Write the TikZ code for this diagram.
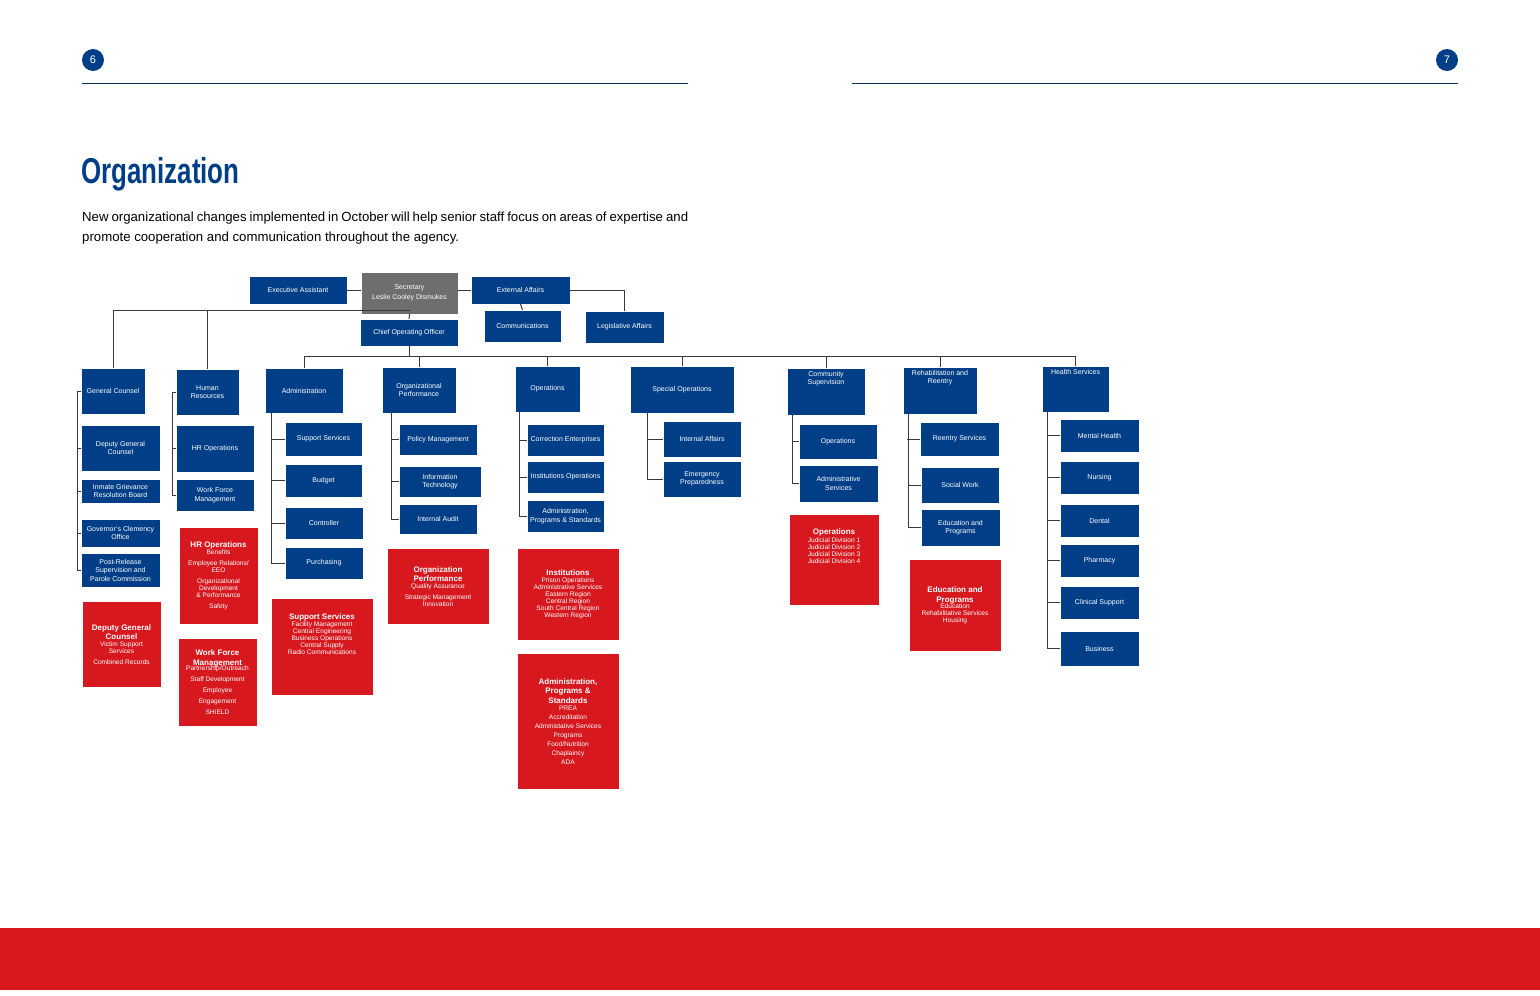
\documentclass[tikz,border=0pt]{standalone}
\usepackage{fontspec}
\setmainfont{Liberation Sans}
\usetikzlibrary{positioning}
\definecolor{orgblue}{HTML}{003F87}
\definecolor{orgred}{HTML}{D7191F}
\definecolor{orggray}{HTML}{6D6E70}
\definecolor{orgline}{HTML}{3A3A3A}
% box from its corners: style, name, x1, y1, x2, y2, text
\newcommand\orgbox[7]{\node[#1, minimum width={(#5-#3)*1pt}, minimum height={(#6-#4)*1pt}] (#2) at ({(#3+#5)/2},{(#4+#6)/2}) {#7};}
\newcommand\redhead[1]{{\fontsize{8}{9.5}\selectfont\bfseries\begin{tabular}{@{}c@{}}#1\end{tabular}}}
\begin{document}
\begin{tikzpicture}[x=1pt, y=-1pt,
    unit/.style={fill=orgblue, draw=white, line width=0.6pt, text=white, inner sep=1pt, outer sep=0pt, align=center, font=\fontsize{7}{8.5}\selectfont},
    boss/.style={unit, fill=orggray},
    notes/.style={unit, fill=orgred, font=\fontsize{6.6}{11}\selectfont},
    link/.style={draw=orgline, line width=1pt},
    toplabel/.style={text=white, anchor=north, inner sep=3pt, align=center, font=\fontsize{7}{8.5}\selectfont}]
  \useasboundingbox (0,0) rectangle (1540,996);

  % page header
  \node[circle, fill=orgblue, text=white, minimum size=22pt, inner sep=0, font=\fontsize{11}{11}\selectfont] (pgl) at (93,60) {6};
  \node[circle, fill=orgblue, text=white, minimum size=22pt, inner sep=0, font=\fontsize{11}{11}\selectfont] (pgr) at (1447,60) {7};
  \draw[draw=orgblue!70!black, line width=1pt] (82,83) -- (688,83);
  \draw[draw=orgblue!70!black, line width=1pt] (852,83) -- (1458,83);
  \node[anchor=west, inner sep=0, text=orgblue, font=\fontsize{36}{36}\selectfont\bfseries] (title) at (81,174) {\scalebox{0.72}[1]{Organization}};
  \node[anchor=north west, inner sep=0, text width=606pt, align=justify, font=\fontsize{13.2}{20}\selectfont] (intro) at (82,212)
    {New organizational changes implemented in October will help senior staff focus on areas of expertise and promote cooperation and communication throughout the agency.};
  \fill[orgred] (0,928) rectangle (1540,990);

  % leadership
  \orgbox{unit}{exec}{249}{276}{347}{304}{Executive Assistant}
  \orgbox{boss}{sec}{361}{272}{458}{314}{Secretary\\[1pt]Leslie Cooley Dismukes}
  \orgbox{unit}{ext}{471}{276}{570}{304}{External Affairs}
  \orgbox{unit}{comms}{484}{310}{561}{342}{Communications}
  \orgbox{unit}{legis}{585}{311}{664}{343}{Legislative Affairs}
  \orgbox{unit}{coo}{360}{319}{458}{346}{Chief Operating Officer}

  % divisions
  \orgbox{unit}{gcounsel}{81}{368}{145}{414}{General Counsel}
  \orgbox{unit}{hres}{176}{369}{239}{415}{Human\\Resources}
  \orgbox{unit}{admin}{265}{368}{343}{413}{Administration}
  \orgbox{unit}{orgperf}{382}{367}{456}{413}{Organizational\\Performance}
  \orgbox{unit}{ops}{515}{366}{580}{412}{Operations}
  \orgbox{unit}{specops}{630}{366}{734}{413}{Special Operations}
  \orgbox{unit}{commsup}{787}{368}{865}{415}{}
  \node[toplabel] (commsuplbl) at (commsup.north) {Community\\Supervision};
  \orgbox{unit}{rehab}{903}{367}{977}{414}{}
  \node[toplabel] (rehablbl) at (rehab.north) {Rehabilitation and\\Reentry};
  \orgbox{unit}{health}{1042}{366}{1109}{412}{}
  \node[toplabel] (healthlbl) at (health.north) {Health Services};

  % sections
  \orgbox{unit}{dgc}{81}{425}{160}{471}{Deputy General\\Counsel}
  \orgbox{unit}{igrb}{81}{479}{160}{503}{Inmate Grievance\\Resolution Board}
  \orgbox{unit}{gco}{81}{519}{160}{547}{Governor's Clemency\\Office}
  \orgbox{unit}{prspc}{81}{553}{160}{587}{Post-Release\\Supervision and\\Parole Commission}
  \orgbox{unit}{hrops}{176}{425}{254}{472}{HR Operations}
  \orgbox{unit}{wfm}{176}{479}{254}{511}{Work Force\\Management}
  \orgbox{unit}{supp}{285}{422}{362}{456}{Support Services}
  \orgbox{unit}{budget}{285}{464}{362}{497}{Budget}
  \orgbox{unit}{ctrl}{285}{507}{363}{539}{Controller}
  \orgbox{unit}{purch}{285}{547}{363}{579}{Purchasing}
  \orgbox{unit}{policy}{399}{424}{477}{455}{Policy Management}
  \orgbox{unit}{infotech}{399}{466}{481}{497}{Information\\Technology}
  \orgbox{unit}{audit}{399}{504}{477}{534}{Internal Audit}
  \orgbox{unit}{corrent}{527}{424}{604}{456}{Correction Enterprises}
  \orgbox{unit}{instops}{527}{461}{604}{493}{Institutions Operations}
  \orgbox{unit}{aps}{527}{500}{604}{532}{Administration,\\Programs \& Standards}
  \orgbox{unit}{intaff}{663}{421}{741}{457}{Internal Affairs}
  \orgbox{unit}{emerg}{663}{461}{741}{497}{Emergency\\Preparedness}
  \orgbox{unit}{csops}{799}{424}{877}{459}{Operations}
  \orgbox{unit}{csadmin}{799}{465}{878}{502}{Administrative\\Services}
  \orgbox{unit}{reentry}{920}{422}{999}{456}{Reentry Services}
  \orgbox{unit}{social}{921}{467}{999}{503}{Social Work}
  \orgbox{unit}{edprog}{921}{509}{1000}{546}{Education and\\Programs}
  \orgbox{unit}{mental}{1060}{419}{1139}{452}{Mental Health}
  \orgbox{unit}{nursing}{1060}{461}{1139}{494}{Nursing}
  \orgbox{unit}{dental}{1060}{504}{1139}{537}{Dental}
  \orgbox{unit}{pharm}{1060}{544}{1139}{577}{Pharmacy}
  \orgbox{unit}{clinic}{1060}{586}{1139}{619}{Clinical Support}
  \orgbox{unit}{business}{1060}{631}{1139}{666}{Business}

  % red detail boxes
  \orgbox{notes}{ndgc}{82}{601}{161}{687}{\redhead{Deputy General\\Counsel}\\[-2pt]Victim Support\\[-4pt]Services\\Combined Records}
  \orgbox{notes}{nhrops}{179}{527}{258}{624}{\redhead{HR Operations}\\[-4pt]Benefits\\Employee Relations/\\[-4pt]EEO\\Organizational\\[-4pt]Development\\[-4pt]\& Performance\\Safety}
  \orgbox{notes}{nwfm}{178}{638}{257}{726}{\redhead{Work Force\\Management}\\[-3pt]Partnership/Outreach\\Staff Development\\Employee\\Engagement\\SHIELD}
  \orgbox{notes}{nsupp}{271}{598}{373}{695}{\redhead{Support Services}\\[-4pt]Facility Management\\[-4pt]Central Engineering\\[-4pt]Business Operations\\[-4pt]Central Supply\\[-4pt]Radio Communications\\[14pt]}
  \orgbox{notes}{norg}{387}{548}{489}{624}{\redhead{Organization\\Performance}\\[-2pt]Quality Assurance\\Strategic Management\\[-4pt]Innovation}
  \orgbox{notes}{ninst}{517}{548}{619}{640}{\redhead{Institutions}\\[-4pt]Prison Operations\\[-4pt]Administrative Services\\[-4pt]Eastern Region\\[-4pt]Central Region\\[-4pt]South Central Region\\[-4pt]Western Region}
  \orgbox{notes}{naps}{517}{653}{619}{789}{\redhead{Administration,\\Programs \&\\Standards}\\[-1pt]PREA\\[-2pt]Accreditation\\[-2pt]Administative Services\\[-2pt]Programs\\[-2pt]Food/Nutrition\\[-2pt]Chaplaincy\\[-2pt]ADA}
  \orgbox{notes}{ncsops}{789}{514}{879}{605}{\redhead{Operations}\\[-3pt]Judicial Division 1\\[-4pt]Judicial Division 2\\[-4pt]Judicial Division 3\\[-4pt]Judicial Division 4\\[16pt]}
  \orgbox{notes}{nedprog}{909}{559}{1001}{651}{\redhead{Education and\\Programs}\\[-2pt]Education\\[-4pt]Rehabilitative Services\\[-4pt]Housing}

  % leadership connectors
  \draw[link] (exec.east) -- (exec.east -| sec.west);
  \draw[link] (sec.east |- ext.west) -- (ext.west);
  \draw[link] (ext.east) -| (legis.north);
  \draw[link] (ext.south) -- (comms.north);
  \draw[link] (sec.south) -- (coo.north);
  \draw[link] ([yshift=4]sec.south) coordinate (sbar) -| (gcounsel.north);
  \draw[link] (sbar) -| (hres.north);
  \draw[link] (coo.south) -- ++(0,10) coordinate (cbar);
  \foreach \dv in {admin, orgperf, ops, specops, commsup, rehab, health}
    \draw[link] (cbar) -| (\dv.north);

  % section trees
  \draw[link] (gcounsel.west) -- ++(-4,0) |- (prspc.west);
  \foreach \sc in {dgc, igrb, gco} \draw[link] (\sc.west) -- ++(-4,0);
  \draw[link] (hres.west) -- ++(-4,0) |- (wfm.west);
  \draw[link] (hrops.west) -- ++(-4,0);
  \draw[link] ([xshift=6]admin.south west) |- (purch.west);
  \foreach \sc in {supp, budget, ctrl} \draw[link] (\sc.west) -- ++(-14,0);
  \draw[link] ([xshift=9]orgperf.south west) |- (audit.west);
  \foreach \sc in {policy, infotech} \draw[link] (\sc.west) -- ++(-8,0);
  \draw[link] ([xshift=4]ops.south west) |- (aps.west);
  \foreach \sc in {corrent, instops} \draw[link] (\sc.west) -- ++(-8,0);
  \draw[link] ([xshift=17]specops.south west) |- (emerg.west);
  \draw[link] (intaff.west) -- ++(-16,0);
  \draw[link] ([xshift=5]commsup.south west) |- (csadmin.west);
  \draw[link] (csops.west) -- ++(-7,0);
  \draw[link] ([xshift=5]rehab.south west) |- (edprog.west);
  \foreach \sc in {reentry, social} \draw[link] (\sc.west) -- ++(-13,0);
  \draw[link] ([xshift=5]health.south west) |- (business.west);
  \foreach \sc in {mental, nursing, dental, pharm, clinic} \draw[link] (\sc.west) -- ++(-13,0);
\end{tikzpicture}
\end{document}
